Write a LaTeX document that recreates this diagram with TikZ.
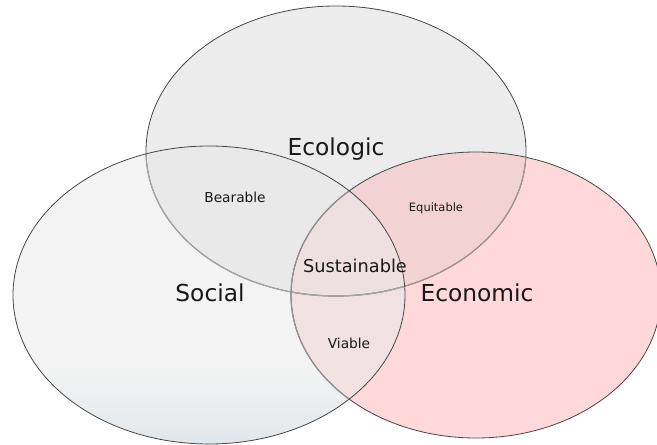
\documentclass[tikz,border=0pt]{standalone}
\usepackage{fontspec}
\setmainfont{DejaVu Sans}
\definecolor{ecofill}{RGB}{236,236,236}
\definecolor{econfill}{RGB}{255,217,217}
\definecolor{socfill}{RGB}{243,243,243}
\definecolor{socbot}{RGB}{226,231,235}
\definecolor{eqfill}{RGB}{242,210,210}
\definecolor{bearfill}{RGB}{233,233,233}
\definecolor{viafill}{RGB}{241,225,226}
\definecolor{susfill}{RGB}{238,224,225}
\definecolor{olc}{RGB}{70,70,70}
\definecolor{ltA}{RGB}{165,148,148}
\definecolor{ltB}{RGB}{165,165,165}
\definecolor{ltC}{RGB}{145,145,145}
\definecolor{txt}{RGB}{25,25,25}
\pgfdeclareverticalshading{socshade}{100bp}{color(0bp)=(socbot); color(25bp)=(socbot); color(38bp)=(socfill); color(100bp)=(socfill)}
\def\ECO{(336,151) ellipse [x radius=190, y radius=145]}
\def\SOC{(209,295) ellipse [x radius=196, y radius=149]}
\def\ECN{(476,295) ellipse [x radius=185, y radius=143]}
\begin{document}
\begin{tikzpicture}[x=0.75pt,y=-0.75pt,
  outl/.style={draw=olc,line width=0.6pt},
  inl/.style={line width=0.9pt},
  bigtxt/.style={font=\fontsize{17.5}{20}\selectfont,text=txt,anchor=base,inner sep=0pt},
  midtxt/.style={font=\fontsize{13.3}{15}\selectfont,text=txt,anchor=base,inner sep=0pt},
  smalltxt/.style={font=\fontsize{10.3}{12}\selectfont,text=txt,anchor=base,inner sep=0pt},
  tinytxt/.style={font=\fontsize{8.6}{10}\selectfont,text=txt,anchor=base,inner sep=0pt}]
\useasboundingbox (0,0) rectangle (657,445);
\begin{scope}
\clip (0,0) rectangle (657,445);
% base fills
\fill[ecofill] \ECO;
\fill[econfill] \ECN;
\shade[shading=socshade] \SOC;
% intersections
\begin{scope}\clip \ECO; \fill[eqfill] \ECN; \end{scope}
\begin{scope}\clip \SOC; \fill[bearfill] \ECO; \end{scope}
\begin{scope}\clip \SOC; \fill[viafill] \ECN; \end{scope}
\begin{scope}\clip \SOC; \clip \ECO; \fill[susfill] \ECN; \end{scope}
% outlines
\draw[outl] \ECO;
\draw[outl] \ECN;
\begin{scope}\clip \ECN; \draw[inl,draw=ltA] \ECO; \end{scope}
\begin{scope}\clip \SOC; \draw[inl,draw=ltB] \ECO; \draw[inl,draw=ltC] \ECN; \end{scope}
\draw[outl] \SOC;
\end{scope}
% labels
\node[bigtxt] (ecologic) at (336,156) {Ecologic};
\node[bigtxt] (social) at (210,302) {Social};
\node[bigtxt] (economic) at (477,302) {Economic};
\node[midtxt] (sustainable) at (355,273) {Sustainable};
\node[smalltxt] (bearable) at (235,202.5) {Bearable};
\node[tinytxt] (equitable) at (436,211.5) {Equitable};
\node[smalltxt] (viable) at (349,349) {Viable};
\end{tikzpicture}
\end{document}
